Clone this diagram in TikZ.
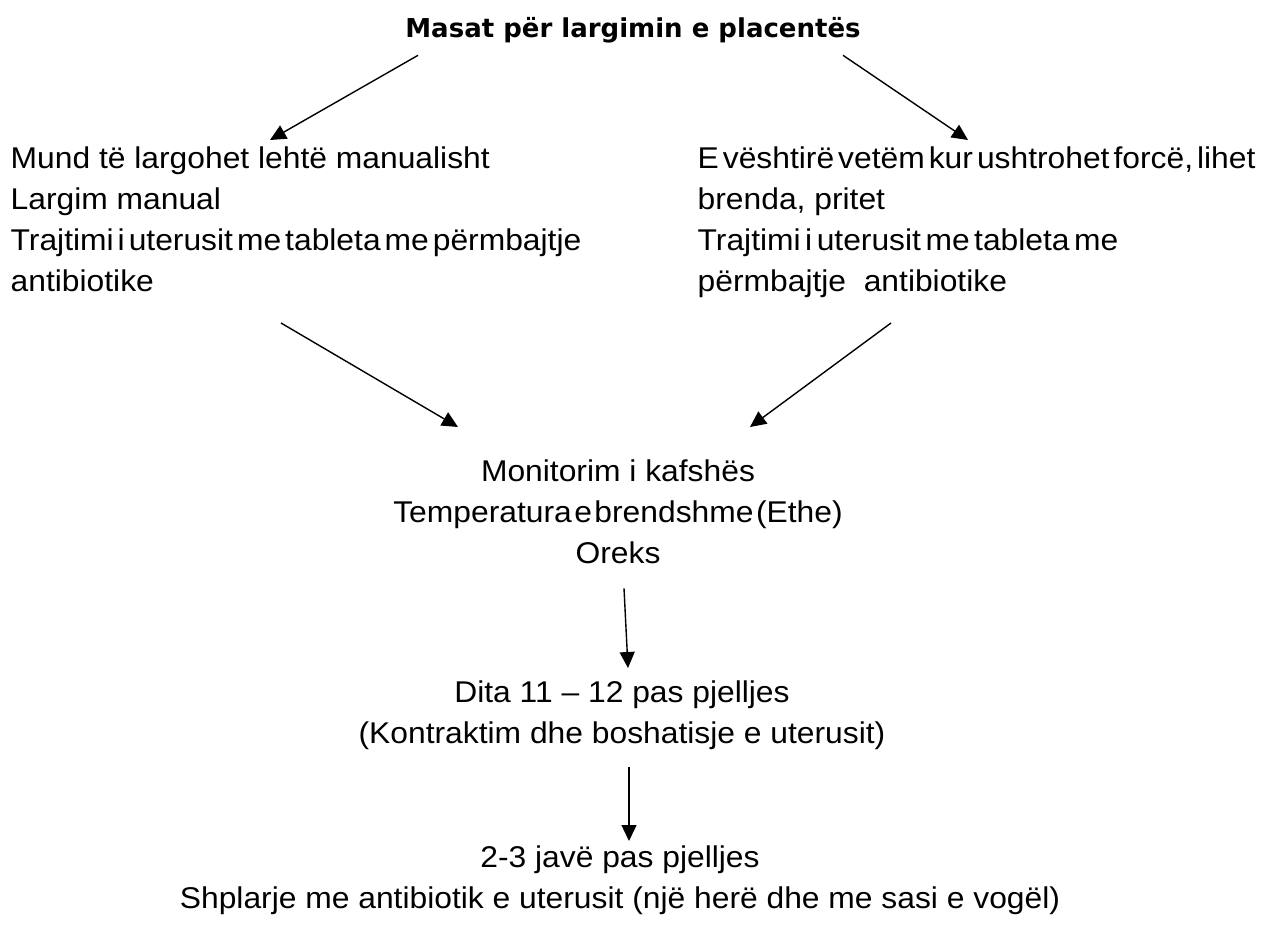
\documentclass[tikz,border=0pt]{standalone}
\usepackage{fontspec}
\setmainfont{Liberation Sans}[FakeStretch=1.06]
\newfontfamily\titlefont{DejaVu Sans}
\usetikzlibrary{arrows.meta,positioning}
% lines printed with narrow word gaps
\newcommand{\narrow}[2]{{\spaceskip=#1pt\relax #2}}

\begin{document}
\begin{tikzpicture}[x=1pt,y=-1pt,inner sep=0pt,
  every node/.style={font=\fontsize{30}{41}\selectfont},
  >={Triangle[length=16pt,width=15pt]},line width=1.4pt]
\useasboundingbox (0,0) rectangle (1265,932);
\node[font=\titlefont\bfseries\fontsize{26}{30}\selectfont,anchor=base] (title) at (633,37) {Masat për largimin e placentës};
\node[anchor=north west,align=left] (manual) at (10,146) {Mund të largohet lehtë manualisht\\Largim manual\\\narrow{4}{Trajtimi i uterusit me tableta me përmbajtje}\\antibiotike};
\node[anchor=north west,align=left] (force) at (697,146) {\narrow{4}{E vështirë vetëm kur ushtrohet forcë, lihet}\\brenda, pritet\\\narrow{4.5}{Trajtimi i uterusit me tableta me}\\përmbajtje\ \ antibiotike};
\node[anchor=north,align=center] (monitor) at (618,459) {Monitorim i kafshës\\\narrow{2.5}{Temperatura e brendshme (Ethe)}\\Oreks};
\node[anchor=north,align=center] (day) at (622,680) {Dita 11 – 12 pas pjelljes\\(Kontraktim dhe boshatisje e uterusit)};
\node[anchor=north,align=center] (week) at (620,845) {2-3 javë pas pjelljes\\Shplarje me antibiotik e uterusit (një herë dhe me sasi e vogël)};
\path[->]
  ([xshift=-215pt,yshift=-12pt]title.south) edge ([xshift=260pt,yshift=6pt]manual.north west)
  ([xshift=210pt,yshift=-12pt]title.south) edge ([xshift=271pt,yshift=6pt]force.north west)
  ([xshift=271pt,yshift=-177pt]manual.north west) edge ([xshift=-160pt,yshift=32pt]monitor.north)
  ([xshift=194pt,yshift=-177pt]force.north west) edge ([xshift=132pt,yshift=32pt]monitor.north)
  ([xshift=6pt,yshift=-24pt]monitor.south) edge ([xshift=6pt,yshift=12pt]day.north)
  ([xshift=7pt,yshift=-17pt]day.south) edge ([xshift=9pt,yshift=4pt]week.north);
\end{tikzpicture}
\end{document}
